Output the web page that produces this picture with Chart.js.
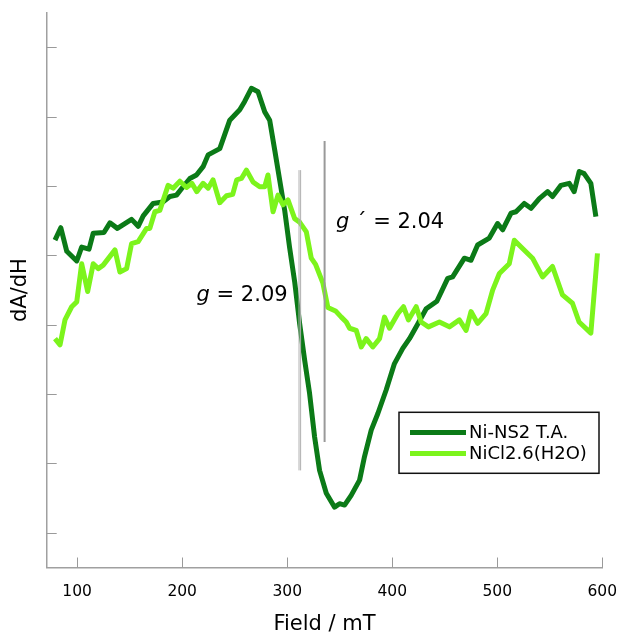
<!DOCTYPE html>
<html>
<head>
<meta charset="utf-8">
<title>ESR spectra</title>
<script src="https://cdn.jsdelivr.net/npm/chart.js@4.4.1/dist/chart.umd.min.js"></script>
<style>
    html, body { margin: 0; padding: 0; background: #fff; }
    #wrap { width: 621px; height: 636px; }
</style>
</head>
<body>
<div id="wrap"><canvas id="esrChart" width="621" height="636"></canvas></div>
<script>
// Ni-NS2 T.A. (field in mT, derivative signal in arbitrary units)
const fieldNiNS2 = [78.9, 84.4, 90.1, 99.6, 104.3, 111.3, 115.3, 125.5, 131.2, 138.3,
    151.8, 158.1, 162.9, 172.4, 181.6, 188.3, 194.6, 200.9, 207.3, 213.6,
    219.9, 224.7, 235.8, 245.3, 254.8, 259.5, 265.9, 272.2, 278.6, 283.3,
    288.1, 292.8, 297.6, 302.3, 307.1, 311.8, 316.6, 321.3, 326.1, 330.8,
    337.2, 345.1, 349.8, 354.6, 360.9, 368.9, 373.6, 380.0, 386.3, 394.2,
    402.1, 410.0, 416.4, 424.3, 432.3, 442.5, 452.8, 457.5, 468.7, 475.0,
    481.3, 492.4, 500.3, 505.1, 513.1, 517.8, 525.7, 532.1, 540.0, 547.9,
    552.6, 560.6, 568.5, 573.2, 578.0, 582.7, 589.1, 593.9];
const signalNiNS2 = [4.72, 4.90, 4.56, 4.42, 4.62, 4.59, 4.82, 4.83, 4.97, 4.89,
    5.02, 4.92, 5.07, 5.25, 5.27, 5.35, 5.37, 5.49, 5.61, 5.66,
    5.78, 5.95, 6.04, 6.45, 6.60, 6.72, 6.91, 6.86, 6.57, 6.45,
    6.02, 5.59, 5.15, 4.61, 4.12, 3.52, 2.99, 2.51, 1.88, 1.40,
    1.07, 0.87, 0.92, 0.90, 1.04, 1.26, 1.60, 1.98, 2.22, 2.56,
    2.94, 3.16, 3.30, 3.51, 3.73, 3.84, 4.17, 4.19, 4.46, 4.43,
    4.65, 4.75, 4.96, 4.87, 5.11, 5.13, 5.25, 5.18, 5.32, 5.42,
    5.35, 5.51, 5.54, 5.42, 5.71, 5.68, 5.54, 5.06];

// NiCl2.6(H2O)
const fieldNiCl2 = [78.9, 83.7, 88.4, 94.8, 99.6, 104.3, 110.0, 115.3, 120.1, 124.8,
    136.0, 140.7, 147.1, 151.8, 158.1, 166.1, 169.2, 174.0, 178.7, 186.6,
    191.4, 197.8, 204.1, 209.2, 213.9, 219.9, 224.7, 229.4, 235.8, 242.2,
    248.1, 251.9, 256.4, 261.2, 267.4, 273.8, 278.6, 281.7, 286.5, 291.2,
    296.0, 300.7, 307.1, 311.8, 318.2, 322.9, 327.0, 334.0, 338.7, 346.0,
    351.5, 356.2, 359.4, 365.7, 370.5, 375.2, 381.5, 387.9, 392.6, 397.4,
    405.3, 410.7, 415.4, 422.8, 427.5, 434.5, 444.9, 454.4, 463.9, 470.3,
    475.0, 481.3, 489.3, 495.6, 502.0, 511.4, 516.2, 524.1, 533.6, 543.1,
    552.6, 562.1, 571.6, 577.9, 589.1, 595.4];
const signalNiCl2 = [3.30, 3.21, 3.57, 3.76, 3.83, 4.38, 3.98, 4.38, 4.31, 4.36,
    4.58, 4.26, 4.31, 4.67, 4.70, 4.89, 4.89, 5.13, 5.15, 5.51,
    5.47, 5.57, 5.48, 5.54, 5.42, 5.54, 5.47, 5.59, 5.26, 5.36,
    5.38, 5.59, 5.61, 5.73, 5.56, 5.49, 5.49, 5.66, 5.13, 5.37,
    5.23, 5.30, 5.03, 4.98, 4.84, 4.46, 4.37, 4.10, 3.75, 3.70,
    3.61, 3.54, 3.45, 3.42, 3.18, 3.30, 3.18, 3.30, 3.61, 3.45,
    3.66, 3.76, 3.57, 3.76, 3.54, 3.47, 3.54, 3.47, 3.57, 3.42,
    3.69, 3.52, 3.66, 4.00, 4.24, 4.38, 4.72, 4.60, 4.46, 4.19,
    4.34, 3.93, 3.81, 3.54, 3.38, 4.53];

const seriesLabels = ['Ni-NS2 T.A.', 'NiCl2.6(H2O)'];
const fieldTicks = [100, 200, 300, 400, 500, 600];
const signalTicks = [0.5, 1.5, 2.5, 3.5, 4.5, 5.5, 6.5, 7.5];

// g-value markers
const gFields = [312, 335.6];
const gLow = [1.40, 1.81];
const gHigh = [5.73, 6.15];
const gTexts = [' = 2.09', ' \u00B4 = 2.04'];

const FONT = "'DejaVu Sans', Verdana, sans-serif";
const DARK = '#0b7a17';
const LIGHT = '#7cf41c';

function toPoints(xs, ys) {
    return xs.map((x, i) => ({ x: x, y: ys[i] }));
}

// Inward ticks, g markers and the boxed legend
const esrDecor = {
    id: 'esrDecor',
    beforeDatasetsDraw(chart) {
        const { ctx, chartArea, scales: { x, y } } = chart;
        ctx.save();
        ctx.strokeStyle = '#9a9a9a';
        ctx.lineWidth = 1;
        x.ticks.forEach((t, i) => {
            const px = Math.round(x.getPixelForTick(i)) + 0.5;
            ctx.beginPath();
            ctx.moveTo(px, chartArea.bottom);
            ctx.lineTo(px, chartArea.bottom - 10);
            ctx.stroke();
        });
        y.ticks.forEach((t, i) => {
            const py = Math.round(y.getPixelForTick(i)) + 0.5;
            ctx.beginPath();
            ctx.moveTo(chartArea.left, py);
            ctx.lineTo(chartArea.left + 10, py);
            ctx.stroke();
        });
        ctx.restore();
    },
    afterDatasetsDraw(chart) {
        const { ctx, chartArea, scales: { x, y } } = chart;
        ctx.save();

        // marker lines
        const p0 = x.getPixelForValue(gFields[0]);
        ctx.strokeStyle = '#b0b0b0';
        ctx.lineWidth = 1;
        [-0.8, 0.8].forEach(d => {
            ctx.beginPath();
            ctx.moveTo(p0 + d, y.getPixelForValue(gLow[0]));
            ctx.lineTo(p0 + d, y.getPixelForValue(gHigh[0]));
            ctx.stroke();
        });
        const p1 = x.getPixelForValue(gFields[1]);
        ctx.strokeStyle = '#999';
        ctx.lineWidth = 2;
        ctx.beginPath();
        ctx.moveTo(p1, y.getPixelForValue(gLow[1]));
        ctx.lineTo(p1, y.getPixelForValue(gHigh[1]));
        ctx.stroke();

        // marker labels
        const anchors = [[213.7, 3.915], [346.4, 4.975]];
        ctx.fillStyle = '#000';
        ctx.textBaseline = 'middle';
        ctx.textAlign = 'left';
        gTexts.forEach((txt, i) => {
            let lx = x.getPixelForValue(anchors[i][0]);
            const ly = y.getPixelForValue(anchors[i][1]);
            ctx.font = 'italic 21px ' + FONT;
            ctx.fillText('g', lx, ly);
            lx += ctx.measureText('g').width;
            ctx.font = '21px ' + FONT;
            ctx.fillText(txt, lx, ly);
        });

        // legend box
        const bx = chartArea.right - 203.3;
        const by = 412.3;
        ctx.strokeStyle = '#111';
        ctx.lineWidth = 1.5;
        ctx.strokeRect(bx, by, 200, 61);
        ctx.font = '18px ' + FONT;
        chart.data.datasets.forEach((ds, i) => {
            const ly = by + 20.2 + i * 21;
            ctx.strokeStyle = ds.borderColor;
            ctx.lineWidth = 5;
            ctx.beginPath();
            ctx.moveTo(bx + 11, ly);
            ctx.lineTo(bx + 67, ly);
            ctx.stroke();
            ctx.fillStyle = '#000';
            ctx.fillText(ds.label, bx + 70, ly + 0.5);
        });
        ctx.restore();
    }
};

new Chart(document.getElementById('esrChart'), {
    type: 'line',
    data: {
        datasets: [
            {
                label: seriesLabels[0],
                data: toPoints(fieldNiNS2, signalNiNS2),
                borderColor: DARK,
                borderWidth: 5,
                pointRadius: 0,
                tension: 0,
                borderJoinStyle: 'round',
                order: 2
            },
            {
                label: seriesLabels[1],
                data: toPoints(fieldNiCl2, signalNiCl2),
                borderColor: LIGHT,
                borderWidth: 5,
                pointRadius: 0,
                tension: 0,
                borderJoinStyle: 'round',
                order: 1
            }
        ]
    },
    options: {
        responsive: false,
        animation: false,
        layout: { padding: { top: 12.7, right: 18.7, left: 0, bottom: 0 } },
        plugins: {
            legend: { display: false },
            tooltip: { enabled: false }
        },
        scales: {
            x: {
                type: 'linear',
                min: 71,
                max: 600,
                afterBuildTicks: s => { s.ticks = fieldTicks.map(v => ({ value: v })); },
                afterFit: s => { s.height = 68.5; },
                // invisible outer tick marks only used to push the labels down
                grid: {
                    display: true,
                    drawOnChartArea: false,
                    drawTicks: true,
                    tickLength: 15,
                    color: 'rgba(0,0,0,0)'
                },
                border: { color: '#a0a0a0', width: 1.5 },
                ticks: {
                    color: '#000',
                    padding: 0,
                    maxRotation: 0,
                    font: { family: FONT, size: 15.5 }
                },
                title: {
                    display: true,
                    text: 'Field / mT',
                    color: '#000',
                    padding: 0,
                    font: { family: FONT, size: 21, lineHeight: 1.1 }
                }
            },
            y: {
                min: 0,
                max: 8,
                afterBuildTicks: s => { s.ticks = signalTicks.map(v => ({ value: v })); },
                afterFit: s => { s.width = 46.7; },
                grid: { display: false },
                border: { color: '#a0a0a0', width: 1.5 },
                ticks: { display: false },
                title: {
                    display: true,
                    text: 'dA/dH',
                    color: '#000',
                    padding: { top: 8.4, bottom: 0 },
                    font: { family: FONT, size: 21 }
                }
            }
        }
    },
    plugins: [esrDecor]
});
</script>
</body>
</html>
